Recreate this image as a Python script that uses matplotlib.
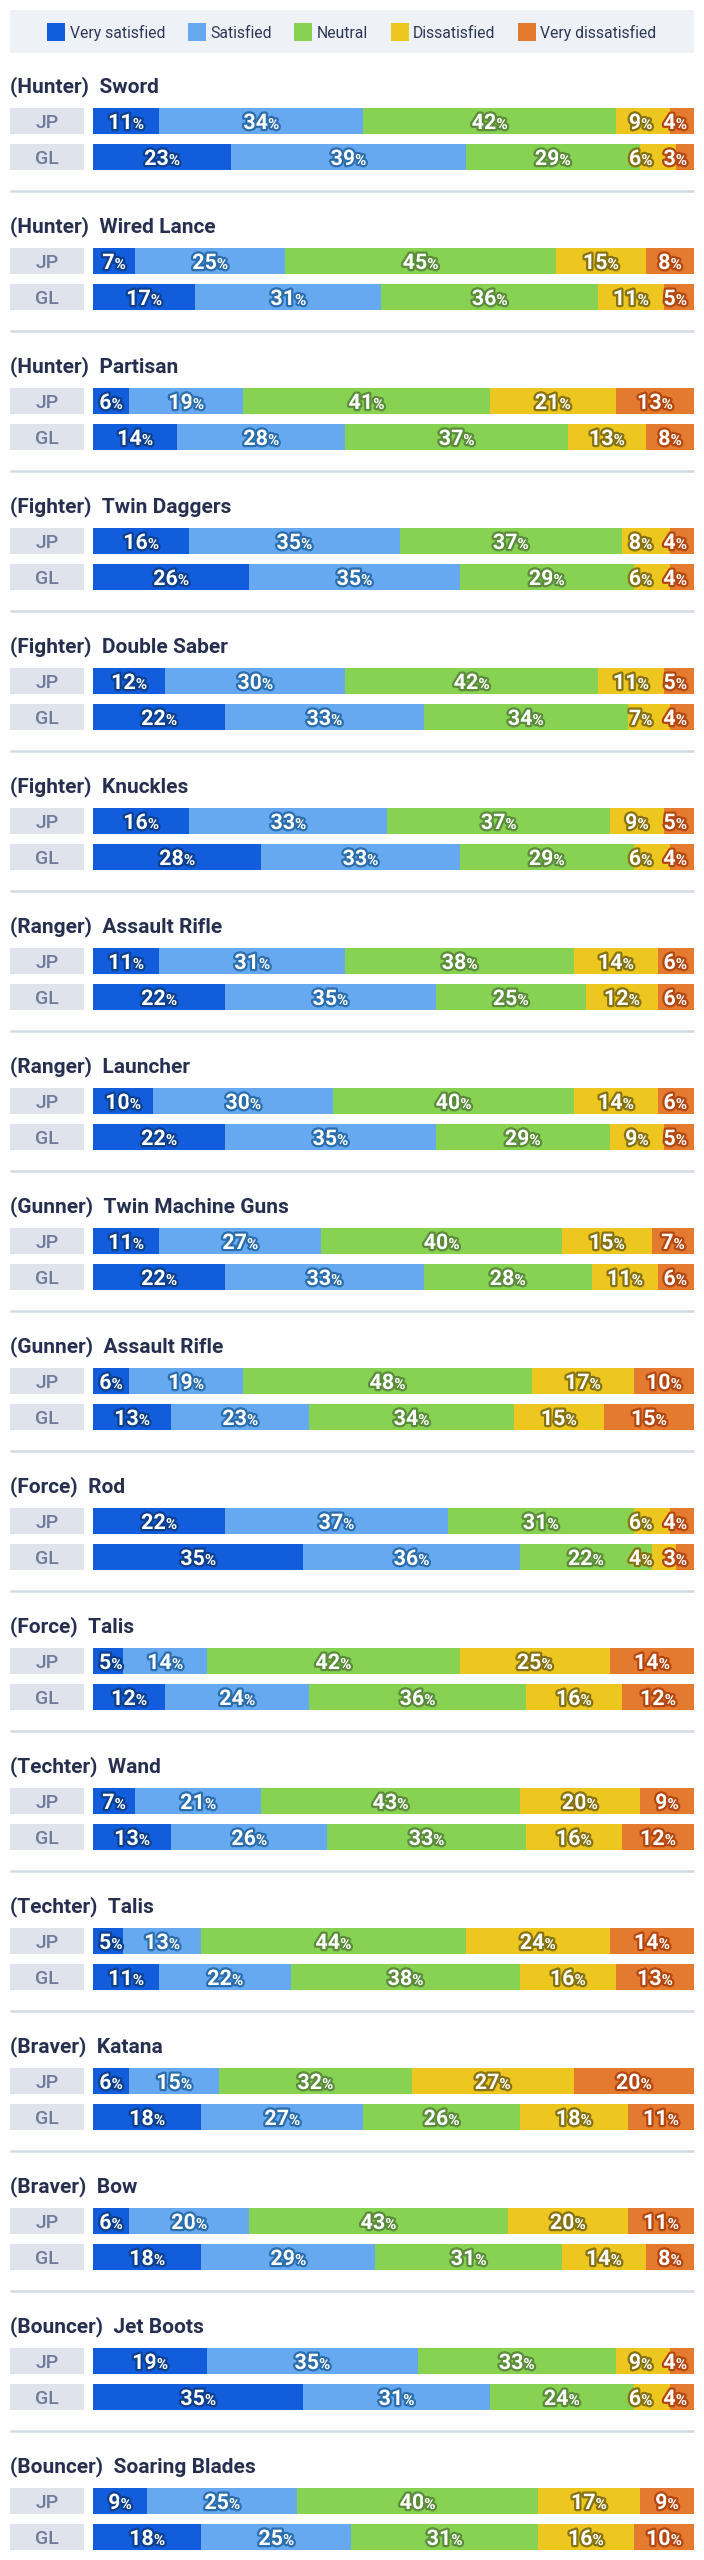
import matplotlib.pyplot as plt
from matplotlib.patches import Rectangle
import matplotlib.patheffects as pe
import numpy as np

plt.rcParams['font.family'] = ['Roboto', 'DejaVu Sans']

categories = ['Very satisfied', 'Satisfied', 'Neutral', 'Dissatisfied', 'Very dissatisfied']
regions = ['JP', 'GL']

classes = ['Hunter', 'Hunter', 'Hunter', 'Fighter', 'Fighter', 'Fighter',
           'Ranger', 'Ranger', 'Gunner', 'Gunner', 'Force', 'Force',
           'Techter', 'Techter', 'Braver', 'Braver', 'Bouncer', 'Bouncer']
weapons = ['Sword', 'Wired Lance', 'Partisan', 'Twin Daggers', 'Double Saber', 'Knuckles',
           'Assault Rifle', 'Launcher', 'Twin Machine Guns', 'Assault Rifle', 'Rod', 'Talis',
           'Wand', 'Talis', 'Katana', 'Bow', 'Jet Boots', 'Soaring Blades']

jp = [
    [11, 34, 42, 9, 4],
    [7, 25, 45, 15, 8],
    [6, 19, 41, 21, 13],
    [16, 35, 37, 8, 4],
    [12, 30, 42, 11, 5],
    [16, 33, 37, 9, 5],
    [11, 31, 38, 14, 6],
    [10, 30, 40, 14, 6],
    [11, 27, 40, 15, 7],
    [6, 19, 48, 17, 10],
    [22, 37, 31, 6, 4],
    [5, 14, 42, 25, 14],
    [7, 21, 43, 20, 9],
    [5, 13, 44, 24, 14],
    [6, 15, 32, 27, 20],
    [6, 20, 43, 20, 11],
    [19, 35, 33, 9, 4],
    [9, 25, 40, 17, 9],
]
gl = [
    [23, 39, 29, 6, 3],
    [17, 31, 36, 11, 5],
    [14, 28, 37, 13, 8],
    [26, 35, 29, 6, 4],
    [22, 33, 34, 7, 4],
    [28, 33, 29, 6, 4],
    [22, 35, 25, 12, 6],
    [22, 35, 29, 9, 5],
    [22, 33, 28, 11, 6],
    [13, 23, 34, 15, 15],
    [35, 36, 22, 4, 3],
    [12, 24, 36, 16, 12],
    [13, 26, 33, 16, 12],
    [11, 22, 38, 16, 13],
    [18, 27, 26, 18, 11],
    [18, 29, 31, 14, 8],
    [35, 31, 24, 6, 4],
    [18, 25, 31, 16, 10],
]

colors = ['#125ddb', '#67a9f1', '#88d253', '#edc61f', '#e47a30']
outlines = ['#0c3f8e', '#2b6ead', '#5a8c39', '#857210', '#b3470f']
navy = '#262f50'

W, H = 704, 2560
fig = plt.figure(figsize=(W / 100, H / 100), dpi=100)

bar_x0, bar_x1 = 93, 694
bx = fig.add_axes([bar_x0 / W, 0, (bar_x1 - bar_x0) / W, 1])
bx.set_xlim(0, 100)
bx.set_ylim(H, 0)
bx.axis('off')

# overlay in pixel coordinates, drawn above the bars
ax = fig.add_axes([0, 0, 1, 1])
ax.set_xlim(0, W)
ax.set_ylim(H, 0)
ax.axis('off')
ax.set_zorder(3)

r = fig.canvas.get_renderer()

# legend
ax.add_patch(Rectangle((10, 10), 684, 43, color='#eef2f7', lw=0))
leg_texts = [ax.text(0, 38, c, fontsize=11.3, color='#2d3859', va='baseline') for c in categories]
tw = [t.get_window_extent(r).width for t in leg_texts]
sq, gap_in, gap_out = 18, 4.5, 22.5
total = sum(sq + gap_in + w for w in tw) + gap_out * (len(tw) - 1)
x = W / 2 - total / 2
for t, w, c in zip(leg_texts, tw, colors):
    ax.add_patch(Rectangle((x, 22.7), sq, sq, color=c, lw=0))
    t.set_x(x + sq + gap_in)
    x += sq + gap_in + w + gap_out

period = 140
bar_h = 26


def to_px(v):
    return bx.transData.transform((v, 0))[0]


def draw_row(vals, yc):
    vals = np.array(vals, float)
    shares = vals / vals.sum() * 100
    lefts = np.concatenate([[0], np.cumsum(shares)[:-1]])
    bx.barh(yc, shares, left=lefts, height=bar_h, color=colors, lw=0)
    items = []
    for i, v in enumerate(vals):
        stroke = [pe.withStroke(linewidth=3.2, foreground=outlines[i])]
        t1 = ax.text(0, yc + 8, f'{v:.0f}', fontsize=15.5, fontweight='bold', color='white',
                     va='baseline', ha='left', path_effects=stroke, zorder=5)
        t2 = ax.text(0, yc + 8, '%', fontsize=11, fontweight='bold', color='white',
                     va='baseline', ha='left', path_effects=stroke, zorder=5)
        w1 = t1.get_window_extent(r).width
        w2 = t2.get_window_extent(r).width
        cx = to_px(lefts[i] + shares[i] / 2)
        items.append([t1, t2, w1, w2, cx - (w1 + w2) / 2])
    # keep labels inside the bar and apart from each other
    lim = bar_x1 - 7
    for it in reversed(items):
        it[4] = min(it[4], lim - it[2] - it[3])
        lim = it[4] - 11
    lim = bar_x0 + 6
    for it in items:
        it[4] = max(it[4], lim)
        lim = it[4] + it[2] + it[3] + 11
    for t1, t2, w1, w2, xl in items:
        t1.set_x(xl)
        t2.set_x(xl + w1)


for k in range(len(weapons)):
    y0 = 83 + period * k
    ax.text(10, y0 + 9, f'({classes[k]})  {weapons[k]}', fontsize=15, fontweight='bold',
            color=navy, va='baseline', ha='left')
    for j, (reg, vals) in enumerate(zip(regions, [jp[k], gl[k]])):
        yc = y0 + 38 + 36 * j
        ax.add_patch(Rectangle((10, yc - bar_h / 2), 74, bar_h, color='#dfe4ec', lw=0))
        ax.text(47, yc + 7.5, reg, fontsize=14, fontweight='medium', color='#6e7b9b',
                va='baseline', ha='center')
        draw_row(vals, yc)
    if k < len(weapons) - 1:
        ax.plot([10, 694], [y0 + 108, y0 + 108], color='#d3dae4', lw=1.8, solid_capstyle='butt')

fig.savefig('out.png', dpi=100)
plt.close()
